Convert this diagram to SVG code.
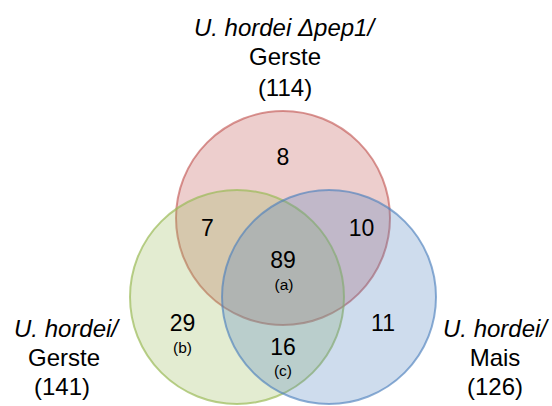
<svg xmlns="http://www.w3.org/2000/svg" width="552" height="406" viewBox="0 0 552 406">
<style>
text{font-family:"Liberation Sans",Arial,sans-serif;fill:#000;text-anchor:middle}
.lbl{font-size:24px}
.it{font-style:italic}
.num{font-size:23px}
.sub{font-size:15.5px}
.c{stroke-width:2}
</style>
<rect width="552" height="406" fill="#fff"/>
<g id="set-red">
<circle class="c" cx="283" cy="218" r="107" fill="#C0504D" fill-opacity="0.28" stroke="#C0504D" stroke-opacity="0.6"/>
</g>
<g id="set-green">
<circle class="c" cx="237" cy="297" r="107" fill="#9BBB59" fill-opacity="0.28" stroke="#9BBB59" stroke-opacity="0.7"/>
</g>
<g id="set-blue">
<circle class="c" cx="329" cy="297" r="107" fill="#4F81BD" fill-opacity="0.28" stroke="#4F81BD" stroke-opacity="0.65"/>
</g>
<g id="counts">
<text class="num" x="283" y="165">8</text>
<text class="num" x="207.5" y="236">7</text>
<text class="num" x="361.5" y="236">10</text>
<text class="num" x="283" y="268">89</text>
<text class="sub" x="284" y="290">(a)</text>
<text class="num" x="182.5" y="331">29</text>
<text class="sub" x="182.5" y="353">(b)</text>
<text class="num" x="283" y="355">16</text>
<text class="sub" x="283" y="376">(c)</text>
<text class="num" x="383" y="331">11</text>
</g>
<g id="label-top">
<text class="lbl it" x="284" y="36">U. hordei Δpep1/</text>
<text class="lbl" x="285" y="65">Gerste</text>
<text class="lbl" x="285" y="96">(114)</text>
</g>
<g id="label-left">
<text class="lbl it" x="66" y="337">U. hordei/</text>
<text class="lbl" x="64" y="366">Gerste</text>
<text class="lbl" x="62" y="395">(141)</text>
</g>
<g id="label-right">
<text class="lbl it" x="495" y="337">U. hordei/</text>
<text class="lbl" x="495" y="366">Mais</text>
<text class="lbl" x="495" y="395">(126)</text>
</g>
<g id="connectors"></g>
</svg>
